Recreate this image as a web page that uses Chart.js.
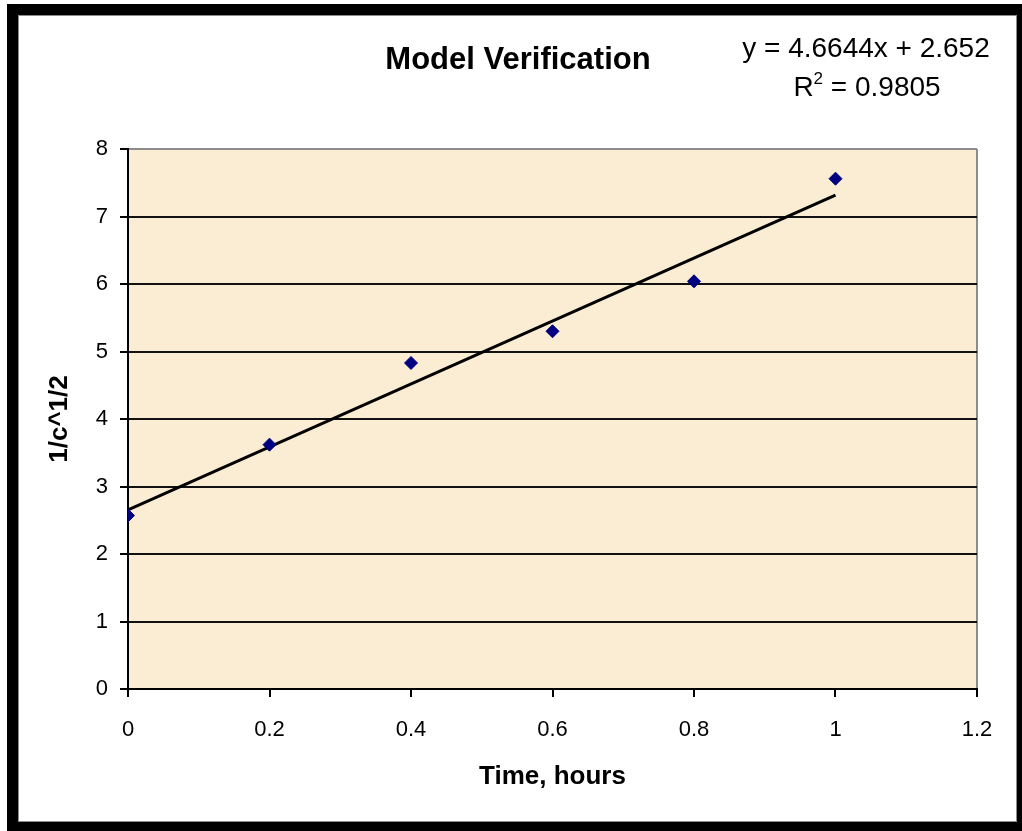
<!DOCTYPE html>
<html>
<head>
<meta charset="utf-8">
<script src="https://cdn.jsdelivr.net/npm/chart.js@4.4.1/dist/chart.umd.min.js"></script>
<style>
  html, body { margin: 0; padding: 0; background: #fff; }
  #frame { position: absolute; left: 7px; top: 4px; width: 1015px; height: 827px; background: #000; }
  #sheet { position: absolute; left: 11px; top: 11px; width: 997px; height: 805px; background: #fff; border: 1px solid #8c8c8c; }
  #chart_wrap { position: absolute; left: 0; top: 0; width: 1022px; height: 831px; }
</style>
</head>
<body>
<div id="frame"><div id="sheet"></div></div>
<div id="chart_wrap"><canvas id="verify_canvas" width="1022" height="831"></canvas></div>
<script>
const timeHours = [0, 0.2, 0.4, 0.6, 0.8, 1.0];
const invSqrtC = [2.57, 3.62, 4.83, 5.30, 6.04, 7.56];

// Excel trendline as printed on the chart
const fitSlope = 4.6644;
const fitIntercept = 2.652;
const fitR2 = 0.9805;
const fitRange = [0, 1.0];

const chartTitle = "Model Verification";
const xTitle = "Time, hours";
const yTitle = "1/c^1/2";

const FONT = "'Liberation Sans', Arial, Helvetica, sans-serif";

function render_verify_chart() {
  var ctx = document.getElementById("verify_canvas").getContext("2d");

  var points = timeHours.map((t, i) => ({ x: t, y: invSqrtC[i] }));
  var fitLine = fitRange.map((t) => ({ x: t, y: fitIntercept + fitSlope * t }));

  // parchment fill behind the plot
  var plotBg = {
    id: "plotBg",
    beforeDraw(chart) {
      const { ctx, chartArea: a } = chart;
      ctx.save();
      ctx.fillStyle = "#fbedd3";
      ctx.fillRect(a.left, a.top, a.right - a.left, a.bottom - a.top);
      ctx.restore();
    }
  };

  // title and trendline label
  var labels = {
    id: "labels",
    afterDraw(chart) {
      const c = chart.ctx;
      c.save();
      c.fillStyle = "#000";
      c.textBaseline = "alphabetic";
      c.textAlign = "center";
      c.font = "bold 31px " + FONT;
      c.fillText(chartTitle, 518, 69);

      c.font = "28px " + FONT;
      c.fillText("y = " + fitSlope + "x + " + fitIntercept, 866, 57);

      // R² with raised 2
      var rest = " = " + fitR2;
      var wR = c.measureText("R").width;
      var wRest = c.measureText(rest).width;
      c.font = "17px " + FONT;
      var w2 = c.measureText("2").width;
      var x0 = 867 - (wR + w2 + wRest) / 2;
      c.textAlign = "left";
      c.font = "28px " + FONT;
      c.fillText("R", x0, 96);
      c.font = "17px " + FONT;
      c.fillText("2", x0 + wR, 84);
      c.font = "28px " + FONT;
      c.fillText(rest, x0 + wR + w2, 96);
      c.restore();
    }
  };

  new Chart(ctx, {
    type: "scatter",
    data: {
      datasets: [
        {
          type: "line",
          data: fitLine,
          borderColor: "#000",
          borderWidth: 3,
          pointRadius: 0,
          fill: false,
          order: 2
        },
        {
          data: points,
          pointStyle: "rectRot",
          pointRadius: 6.5,
          backgroundColor: "#000080",
          borderColor: "#000080",
          borderWidth: 1,
          order: 1
        }
      ]
    },
    options: {
      responsive: false,
      animation: false,
      layout: { padding: { left: 20, right: 45, top: 149, bottom: 20 } },
      plugins: {
        legend: { display: false },
        tooltip: { enabled: false }
      },
      scales: {
        x: {
          type: "linear",
          min: 0,
          max: 1.2,
          afterFit: (s) => { s.height = 831 - 689 - 20; },
          ticks: {
            stepSize: 0.2,
            padding: 20,
            color: "#000",
            font: { family: FONT, size: 22 },
            callback: (v) => String(+v.toFixed(1))
          },
          grid: {
            drawOnChartArea: true,
            color: (c) => (c.tick && Math.abs(c.tick.value - 1.2) < 1e-6 ? "#8c8c8c" : "rgba(0,0,0,0)"),
            lineWidth: 2,
            tickLength: 8,
            tickColor: "#000",
            tickWidth: 2
          },
          border: { color: "#000", width: 2 },
          title: {
            display: true,
            text: xTitle,
            color: "#000",
            font: { family: FONT, size: 26, weight: "bold" },
            padding: { top: 0, bottom: 19 }
          }
        },
        y: {
          min: 0,
          max: 8,
          afterFit: (s) => { s.width = 128 - 20; },
          ticks: {
            stepSize: 1,
            padding: 12,
            color: "#000",
            font: { family: FONT, size: 22 }
          },
          grid: {
            color: (c) => (c.tick && c.tick.value === 8 ? "#8c8c8c" : "#111"),
            lineWidth: 2,
            tickLength: 8,
            tickColor: "#000",
            tickWidth: 2
          },
          border: { color: "#000", width: 2 },
          title: {
            display: true,
            text: yTitle,
            color: "#000",
            font: { family: FONT, size: 26, weight: "bold" },
            padding: { top: 24, bottom: 0 }
          }
        }
      }
    },
    plugins: [plotBg, labels]
  });
}

render_verify_chart();
</script>
</body>
</html>
